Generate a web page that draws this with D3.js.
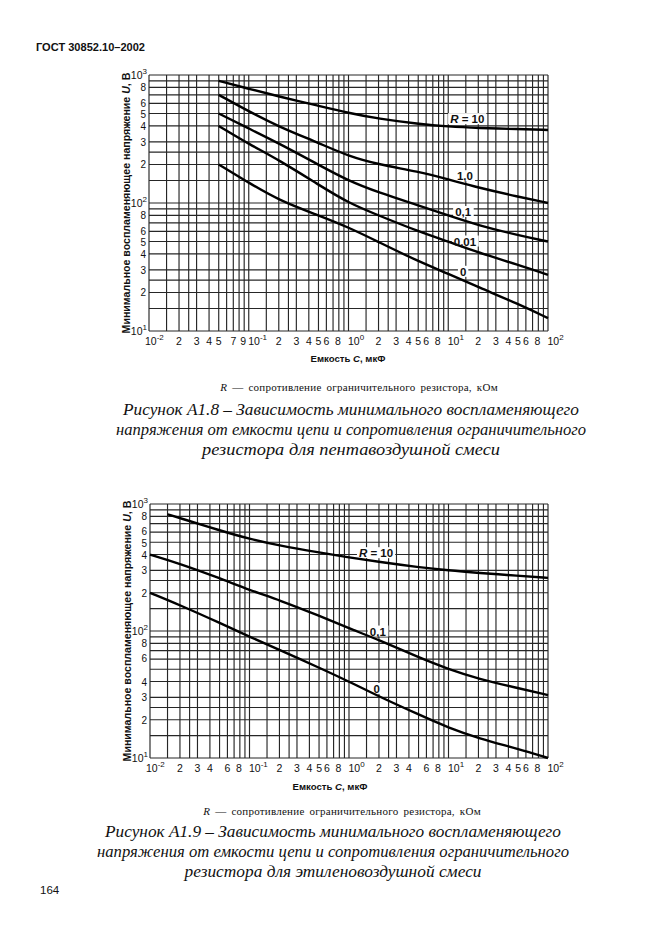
<!DOCTYPE html>
<html>
<head>
<meta charset="utf-8">
<script src="https://cdn.jsdelivr.net/npm/d3@7"></script>
<style>
html,body{margin:0;padding:0;background:#fff;}
svg{display:block;}
</style>
</head>
<body>
<svg id="page" width="661" height="935"></svg>
<script>
// ---------- DATA ----------
// Chart A1.8 (pentane-air)
const c1C    = [0.05, 0.1, 0.2, 0.5, 1, 2, 5, 10, 20, 50, 100];
const c1R10  = [900, 780, 680, 575, 505, 455, 415, 395, 385, 378, 372];
const c1R1   = [700, 520, 395, 295, 232, 200, 176, 153, 132, 112, 100];
const c1R01  = [500, 382, 293, 199, 149, 121, 96, 80, 67, 56, 50];
const c1R001 = [400, 289, 217, 139, 100, 80, 60, 50, 41, 33, 27.5];
const c1R0   = [200, 144, 105, 80, 64.6, 49.6, 35, 28, 22, 16.3, 12.6];
const c1Names = ["R = 10", "1,0", "0,1", "0,01", "0"];
const c1LabelC = [15.5, 14.7, 14.1, 14.7, 14.1];
const c1LabelU = [452, 162, 85, 50, 29];

// Chart A1.9 (ethylene-air)
const c2C10  = [0.015, 0.02, 0.05, 0.1, 0.2, 0.5, 1, 2, 5, 10, 20, 50, 100];
const c2R10  = [830, 775, 620, 530, 470, 415, 380, 350, 318, 300, 287, 272, 262];
const c2C    = [0.01, 0.02, 0.05, 0.1, 0.2, 0.5, 1, 2, 5, 10, 20, 50, 100];
const c2R01  = [400, 339, 261, 210, 175, 132, 105, 85, 62, 50, 42, 35.5, 31.3];
const c2R0   = [200, 160, 116, 90, 71, 51.5, 40, 30.5, 22, 17.3, 14.3, 11.8, 10];
const c2Names = ["R = 10", "0,1", "0"];
const c2LabelC = [1.87, 1.95, 1.9];
const c2LabelU = [410, 99, 35];

// Tick labels
const xMajor = [0.01, 0.1, 1, 10, 100];
const xMajorExp = ["-2", "-1", "0", "1", "2"];
const yMajor = [10, 100, 1000];
const yMajorExp = ["1", "2", "3"];
const x1Minor = [[2,3,4,5,7,9],[2,3,4,5,6,8],[2,3,4,5,6,8],[2,3,4,5,6,8]];
const x2Minor = [[2,3,4,6,8],[2,3,4,5,6,8],[2,3,4,6,8],[2,3,4,5,6,8]];
const y1Minor = [[2,3,4,5,6,8],[2,3,4,5,6,8]];
const y2Minor = [[2,3,4,6,8],[2,3,4,5,6,8]];
const gridMantissa = [1, 1.5, 2, 2.5, 3, 4, 5, 6, 7, 8, 9];

// Texts
const headerText = "ГОСТ 30852.10–2002";
const yTitle = ["Минимальное воспламеняющее напряжение ", "U", ", В"];
const xTitle = ["Емкость ", "C", ", мкФ"];
const noteText = ["R", " — сопротивление ограничительного резистора, кОм"];
const cap1 = ["Рисунок А1.8 – Зависимость минимального воспламеняющего",
              "напряжения от емкости цепи и сопротивления ограничительного",
              "резистора для пентавоздушной смеси"];
const cap2 = ["Рисунок А1.9 – Зависимость минимального воспламеняющего",
              "напряжения от емкости цепи и сопротивления ограничительного",
              "резистора для этиленовоздушной смеси"];
const pageNum = "164";

// ---------- DRAW ----------
const svg = d3.select("#page");
svg.append("rect").attr("width",661).attr("height",935).attr("fill","#fff");
const SANS = "'Liberation Sans', Arial, sans-serif";
const SERIF = "'Liberation Serif', 'Times New Roman', serif";
const INK = "#111";

svg.append("text").attr("x",36).attr("y",51)
  .attr("font-family",SANS).attr("font-weight","bold").attr("font-size",11.5)
  .attr("textLength",109).attr("lengthAdjust","spacingAndGlyphs")
  .attr("fill",INK).text(headerText);

svg.append("text").attr("x",40).attr("y",894)
  .attr("font-family",SANS).attr("font-size",11.5).attr("fill",INK).text(pageNum);

function drawChart(cfg){
  const g = svg.append("g");
  const x = d3.scaleLog().domain([0.01,100]).range([cfg.left,cfg.right]);
  const y = d3.scaleLog().domain([10,1000]).range([cfg.bottom,cfg.top]);

  // grid values
  const xs = [], ys = [];
  [0.01,0.1,1,10].forEach(d => gridMantissa.forEach(m => xs.push(d*m)));
  xs.push(100);
  [10,100].forEach(d => gridMantissa.forEach(m => ys.push(d*m)));
  ys.push(1000);

  const grid = g.append("g").attr("stroke","#262626").attr("stroke-width",1.15);
  grid.selectAll("line.v").data(xs).join("line")
    .attr("x1",d=>x(d)).attr("x2",d=>x(d))
    .attr("y1",cfg.top).attr("y2",cfg.bottom);
  grid.selectAll("line.h").data(ys).join("line")
    .attr("y1",d=>y(d)).attr("y2",d=>y(d))
    .attr("x1",cfg.left).attr("x2",cfg.right);

  // x tick labels
  const tl = g.append("g").attr("font-family",SANS).attr("font-size",10.5).attr("fill",INK);
  xMajor.forEach((v,i)=>{
    const t = tl.append("text").attr("x",x(v)-(i===0?4:0.5)).attr("y",cfg.bottom+cfg.xLabDy);
    t.append("tspan").text("10");
    t.append("tspan").attr("dy",-5).attr("font-size",8).text(xMajorExp[i]);
  });
  cfg.xMinor.forEach((arr,di)=>{
    const base = xMajor[di];
    arr.forEach(m=>{
      tl.append("text").attr("x",x(base*m)-(m>=8?1:0)).attr("y",cfg.bottom+cfg.xLabDy)
        .attr("text-anchor","middle").text(m);
    });
  });
  // y tick labels
  yMajor.forEach((v,i)=>{
    const t = tl.append("text").attr("x",cfg.left-2).attr("y",y(v)+4).attr("text-anchor","end");
    t.append("tspan").text("10");
    t.append("tspan").attr("dy",-5).attr("font-size",8).text(yMajorExp[i]);
  });
  cfg.yMinor.forEach((arr,di)=>{
    const base = yMajor[di];
    arr.forEach(m=>{
      tl.append("text").attr("x",cfg.left-3).attr("y",y(base*m)+(m===5?4.5:m===6?3.3:4))
        .attr("font-size",10).attr("text-anchor","end").text(m);
    });
  });

  // axis titles
  const yt = g.append("text")
    .attr("transform",`translate(${cfg.left-19},${(cfg.top+cfg.bottom)/2}) rotate(-90)`)
    .attr("text-anchor","middle").attr("font-family",SANS).attr("font-size",10.6)
    .attr("font-weight","bold").attr("fill",INK);
  yt.append("tspan").text(yTitle[0]);
  yt.append("tspan").attr("font-style","italic").text(yTitle[1]);
  yt.append("tspan").text(yTitle[2]);

  const xt = g.append("text").attr("x",cfg.xTitleX).attr("y",cfg.bottom+cfg.xTitleDy)
    .attr("text-anchor","middle").attr("font-family",SANS).attr("font-size",9.6)
    .attr("font-weight","bold").attr("fill",INK);
  xt.append("tspan").text(xTitle[0]);
  xt.append("tspan").attr("font-style","italic").text(xTitle[1]);
  xt.append("tspan").text(xTitle[2]);

  // curve label backings (cut the grid, not the curves)
  const backs = g.append("g");
  const curves = g.append("g");
  const labs = g.append("g");
  cfg.names.forEach((n,i)=>{
    const px = x(cfg.labC[i]), py = y(cfg.labU[i]);
    const t = labs.append("text").attr("x",px).attr("y",py+4).attr("text-anchor","middle")
      .attr("font-family",SANS).attr("font-size",11.5).attr("font-weight","bold").attr("fill",INK);
    if(n.startsWith("R")){
      t.append("tspan").attr("font-style","italic").text("R");
      t.append("tspan").text(n.slice(1));
    } else t.text(n);
    const bb = t.node().getBBox();
    backs.append("rect")
      .attr("x",bb.x-2).attr("y",bb.y).attr("width",bb.width+4).attr("height",bb.height-1)
      .attr("fill","#fff");
  });

  // curves
  const line = d3.line().x(d=>x(d[0])).y(d=>y(d[1])).curve(d3.curveBasis);
  cfg.series.forEach(s=>{
    const pts = s.C.map((c,i)=>[c,s.U[i]]);
    curves.append("path").attr("d",line(pts)).attr("fill","none")
      .attr("stroke","#000").attr("stroke-width",2.4).attr("stroke-linejoin","round");
  });

  // note
  const nt = g.append("text").attr("x",cfg.noteX).attr("y",cfg.noteY)
    .attr("text-anchor","middle").attr("font-family",SERIF).attr("font-size",11)
    .attr("fill",INK).attr("word-spacing",2).attr("letter-spacing",0.25);
  nt.append("tspan").attr("font-style","italic").text(noteText[0]);
  nt.append("tspan").text(noteText[1]);

  // caption
  cfg.caption.forEach((c,i)=>{
    g.append("text").attr("x",cfg.capX).attr("y",cfg.capY+i*20)
      .attr("text-anchor","middle").attr("font-family",SERIF).attr("font-style","italic")
      .attr("font-size",16.5).attr("fill",INK)
      .attr("textLength",cfg.capW[i]).attr("lengthAdjust","spacingAndGlyphs").text(c);
  });
}

drawChart({
  left:149, right:548, top:75, bottom:331, xLabDy:14, xTitleDy:31, xTitleX:348,
  xMinor:x1Minor, yMinor:y1Minor,
  series:[{C:c1C,U:c1R10},{C:c1C,U:c1R1},{C:c1C,U:c1R01},{C:c1C,U:c1R001},{C:c1C,U:c1R0}],
  names:c1Names, labC:c1LabelC, labU:c1LabelU,
  noteX:359, noteY:391, caption:cap1, capX:351, capY:415, capW:[456,470,298]
});
drawChart({
  left:150, right:548, top:504, bottom:758, xLabDy:13.5, xTitleDy:32, xTitleX:330,
  xMinor:x2Minor, yMinor:y2Minor,
  series:[{C:c2C10,U:c2R10},{C:c2C,U:c2R01},{C:c2C,U:c2R0}],
  names:c2Names, labC:c2LabelC, labU:c2LabelU,
  noteX:342, noteY:815, caption:cap2, capX:333, capY:837, capW:[456,472,297]
});
</script>
</body>
</html>
